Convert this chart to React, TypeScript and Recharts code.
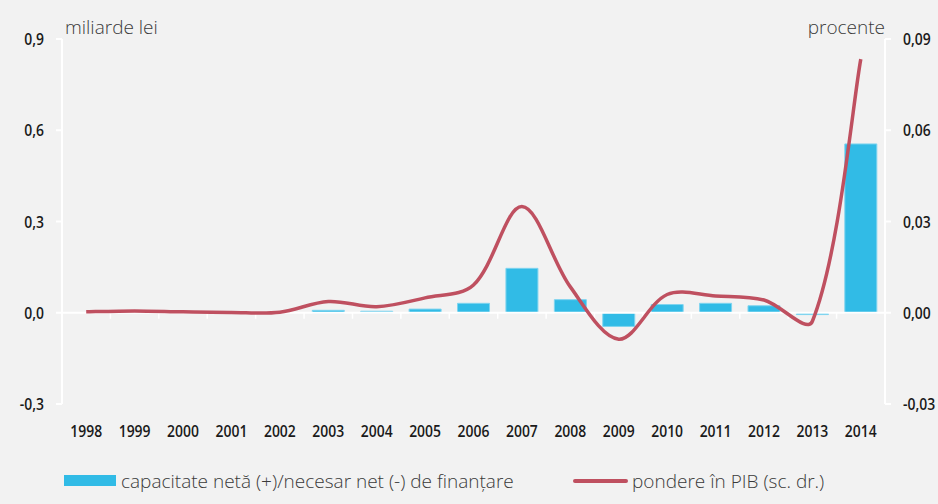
import React from "react";
import { ComposedChart, Bar, Line, XAxis, YAxis, ReferenceLine } from "recharts";

const years = ["1998","1999","2000","2001","2002","2003","2004","2005","2006","2007","2008","2009","2010","2011","2012","2013","2014"];
const capacitate = [0, 0, 0, 0, 0, 0.008, 0.005, 0.012, 0.031, 0.146, 0.043, -0.045, 0.027, 0.031, 0.023, -0.006, 0.555];
const pondere = [0.0003, 0.0006, 0.0003, 0.0001, 0.0002, 0.0037, 0.002, 0.0049, 0.0091, 0.0349, 0.0085, -0.0087, 0.006, 0.0055, 0.0042, -0.0028, 0.0834];
const leftTicks = [-0.3, 0, 0.3, 0.6, 0.9];
const rightTicks = [-0.03, 0, 0.03, 0.06, 0.09];

const data = years.map((y, i) => ({ year: y, cap: capacitate[i], pond: pondere[i] }));

const BG = "#f2f2f2";
const BLUE = "#31bbe6";
const RED = "#bf5060";
const TICK_FONT = "'Open Sans', 'Noto Sans', sans-serif";
const TEXT_FONT = "'Open Sans', 'Noto Sans', sans-serif";

// Excel-like smoothed line: Bezier with chord-length-scaled tangents
function smoothCurve(context: any) {
  let pts: number[][] = [];
  const dist = (a: number[], b: number[]) => Math.hypot(b[0] - a[0], b[1] - a[1]);
  return {
    areaStart() {},
    areaEnd() {},
    lineStart() { pts = []; },
    point(x: number, y: number) { pts.push([+x, +y]); },
    lineEnd() {
      if (!pts.length) return;
      context.moveTo(pts[0][0], pts[0][1]);
      for (let i = 0; i < pts.length - 1; i++) {
        const p0 = pts[i - 1] || pts[i];
        const p1 = pts[i];
        const p2 = pts[i + 1];
        const p3 = pts[i + 2] || p2;
        const d01 = dist(p0, p1), d12 = dist(p1, p2), d23 = dist(p2, p3);
        const f1 = d01 + d12 > 0 ? (d12 / (d01 + d12)) / 3 : 0;
        const f2 = d12 + d23 > 0 ? (d12 / (d12 + d23)) / 3 : 0;
        const a1 = i === 0 ? 1 / 6 : f1;
        const a2 = i === pts.length - 2 ? 1 / 6 : f2;
        context.bezierCurveTo(
          p1[0] + (p2[0] - p0[0]) * a1, p1[1] + (p2[1] - p0[1]) * a1,
          p2[0] - (p3[0] - p1[0]) * a2, p2[1] - (p3[1] - p1[1]) * a2,
          p2[0], p2[1]
        );
      }
    },
  };
}

const fmt = (d: number) => (v: number) => v.toFixed(d).replace(".", ",");

const CondTick = (props: any) => {
  const { x, y, payload, anchor, digits, dy } = props;
  const label = digits === undefined ? String(payload.value) : fmt(digits)(payload.value);
  return (
    <g transform={`translate(${x},${y})`}>
      <text
        transform="scale(0.82,1)"
        x={0}
        y={0}
        dy={dy}
        textAnchor={anchor}
        fill="#1a1a1a"
        fontSize={17}
        fontFamily={TICK_FONT}
        fontWeight={600}
      >
        {label}
      </text>
    </g>
  );
};

const ZeroLine = (props: any) => {
  const { x1, x2, y1 } = props;
  const n = years.length;
  const w = (x2 - x1) / n;
  const ticks = [];
  for (let k = 1; k < n; k++) {
    const x = x1 + k * w;
    ticks.push(<line key={k} x1={x} x2={x} y1={y1} y2={y1 + 6} stroke="#ffffff" strokeWidth={1.5} />);
  }
  return (
    <g>
      <line x1={x1} x2={x2} y1={y1} y2={y1} stroke="#ffffff" strokeWidth={2} />
      {ticks}
    </g>
  );
};

const textStyle: React.CSSProperties = {
  position: "absolute",
  fontFamily: TEXT_FONT,
  fontSize: 19,
  fontWeight: 300,
  letterSpacing: 0,
  color: "#3a3a3a",
  whiteSpace: "nowrap",
  lineHeight: "normal",
};

export default function App() {
  return (
    <div style={{ position: "absolute", left: 0, top: 0, width: 938, height: 504, background: BG }}>
      <ComposedChart
        width={938}
        height={504}
        data={data}
        margin={{ top: 39, right: 0, bottom: 0, left: 0 }}
        barCategoryGap="17%"
      >
        <XAxis
          dataKey="year"
          axisLine={false}
          tickLine={false}
          tickSize={0}
          tickMargin={0}
          height={100}
          interval={0}
          tick={<CondTick anchor="middle" dy={33} />}
        />
        <YAxis
          yAxisId="left"
          width={62}
          domain={[-0.3, 0.9]}
          ticks={leftTicks}
          axisLine={{ stroke: "#ffffff", strokeWidth: 2 }}
          tickLine={{ stroke: "#ffffff", strokeWidth: 2 }}
          tickSize={6}
          tickMargin={12}
          tick={<CondTick anchor="end" digits={1} dy={6} />}
        />
        <YAxis
          yAxisId="right"
          orientation="right"
          width={53}
          domain={[-0.03, 0.09]}
          ticks={rightTicks}
          axisLine={{ stroke: "#ffffff", strokeWidth: 2 }}
          tickLine={{ stroke: "#ffffff", strokeWidth: 2 }}
          tickSize={6}
          tickMargin={12}
          tick={<CondTick anchor="start" digits={2} dy={6} />}
        />
        <Bar
          yAxisId="left"
          dataKey="cap"
          fill={BLUE}
          stroke="#7fd4ef"
          strokeWidth={1}
          isAnimationActive={false}
        />
        <ReferenceLine yAxisId="left" y={0} shape={<ZeroLine />} />
        <Line
          yAxisId="right"
          dataKey="pond"
          type={smoothCurve as any}
          stroke={RED}
          strokeWidth={3.5}
          dot={false}
          activeDot={false}
          isAnimationActive={false}
        />
      </ComposedChart>
      <div style={{ ...textStyle, left: 65, top: 13.5 }}>miliarde lei</div>
      <div style={{ ...textStyle, right: 53, top: 13.5 }}>procente</div>
      <span style={{ position: "absolute", left: 64, top: 475, width: 52, height: 11, background: BLUE }} />
      <div style={{ ...textStyle, left: 121, top: 467.5 }}>capacitate netă (+)/necesar net (-) de finanțare</div>
      <span style={{ position: "absolute", left: 573, top: 478.5, width: 55, height: 4, borderRadius: 2, background: RED }} />
      <div style={{ ...textStyle, left: 632, top: 467.5 }}>pondere în PIB (sc. dr.)</div>
    </div>
  );
}
